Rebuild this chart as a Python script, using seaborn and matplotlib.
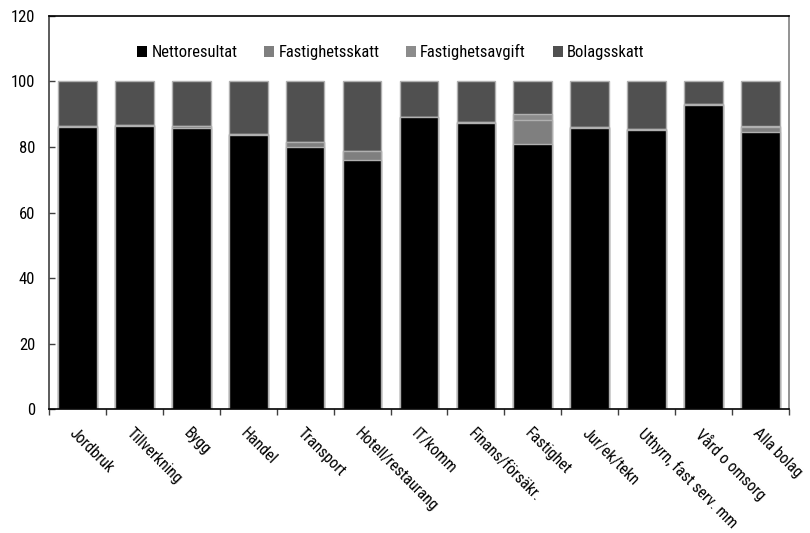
import matplotlib
matplotlib.use("Agg")
import matplotlib.pyplot as plt
from matplotlib.patches import Patch
from matplotlib.ticker import FixedLocator
import numpy as np
import pandas as pd
import seaborn as sns

categories = ["Jordbruk", "Tillverkning", "Bygg", "Handel", "Transport",
              "Hotell/restaurang", "IT/komm", "Finans/försäkr.", "Fastighet",
              "Jur/ek/tekn", "Uthyrn, fast serv. mm", "Vård o omsorg", "Alla bolag"]
nettoresultat = [86.0, 86.3, 85.7, 83.6, 79.9, 75.9, 89.1, 87.2, 80.8, 85.8, 85.2, 92.9, 84.6]
fastighetsskatt = [0.3, 0.3, 0.8, 0.3, 1.5, 3.0, 0.2, 0.5, 7.4, 0.4, 0.3, 0.1, 1.6]
fastighetsavgift = [0.0, 0.0, 0.0, 0.0, 0.0, 0.0, 0.0, 0.0, 2.0, 0.0, 0.0, 0.0, 0.3]
bolagsskatt = [100 - a - b - c for a, b, c in zip(nettoresultat, fastighetsskatt, fastighetsavgift)]
series_names = ["Nettoresultat", "Fastighetsskatt", "Fastighetsavgift", "Bolagsskatt"]
y_ticks = [0, 20, 40, 60, 80, 100, 120]

colors = ["#000000", "#7f7f7f", "#8c8c8c", "#505050"]
edge = "#b0b0b0"

sns.set_style("white")
plt.rcParams['font.family'] = ['Roboto Condensed', 'DejaVu Sans']
plt.rcParams['text.color'] = 'black'
plt.rcParams['xtick.color'] = 'black'
plt.rcParams['ytick.color'] = 'black'
plt.rcParams['xtick.labelcolor'] = 'black'
plt.rcParams['ytick.labelcolor'] = 'black'

FS = 12

fig = plt.figure(figsize=(8.1, 5.33), dpi=100)
ax = fig.add_axes([0.0605, 0.2326, 0.9135, 0.7374])

n = np.array(nettoresultat)
c1 = n
c2 = c1 + np.array(fastighetsskatt)
c3 = c2 + np.array(fastighetsavgift)
c4 = c3 + np.array(bolagsskatt)
layers = [(c4, colors[3]), (c3, colors[2]), (c2, colors[1]), (c1, colors[0])]
for vals, col in layers:
    df = pd.DataFrame({"cat": categories, "val": vals})
    sns.barplot(data=df, x="cat", y="val", color=col, width=0.68,
                edgecolor=edge, linewidth=1.0, saturation=1, ax=ax, errorbar=None)

ax.set_xlim(-0.5, len(categories) - 0.5)
ax.set_ylim(0, 120)
ax.set_yticks(y_ticks)
ax.set_yticklabels([str(t) for t in y_ticks], fontsize=FS)
ax.set_xlabel("")
ax.set_ylabel("")
ax.tick_params(axis="y", direction="in", length=4, width=1, color="#404040", left=True, pad=10)
ax.set_xticks(range(len(categories)))
ax.set_xticklabels(categories, rotation=-45, ha="left", rotation_mode="anchor", fontsize=11.4)
ax.tick_params(axis="x", which="major", length=0, pad=12)
ax.xaxis.set_minor_locator(FixedLocator(np.arange(-0.5, len(categories), 1.0)))
ax.tick_params(axis="x", which="minor", length=4, width=1, color="#404040", bottom=True, direction="out")

for side, col in [("left", "#404040"), ("top", "#000000"), ("right", "#808080"), ("bottom", "#000000")]:
    ax.spines[side].set_visible(True)
    ax.spines[side].set_color(col)
    ax.spines[side].set_linewidth(1.2)

handles = [Patch(facecolor=c, edgecolor="none") for c in colors]
ax.legend(handles, series_names, loc="center", bbox_to_anchor=(0.462, 0.908),
          ncol=4, frameon=False, fontsize=FS, handlelength=0.6, handleheight=0.6,
          handletextpad=0.25, columnspacing=1.6)

fig.savefig("out.png", dpi=100)
